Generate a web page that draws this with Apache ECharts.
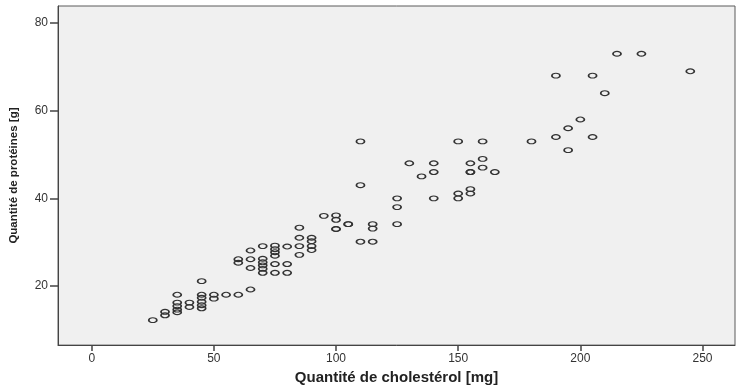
<!DOCTYPE html>
<html>
<head>
<meta charset="utf-8">
<script src="https://cdn.jsdelivr.net/npm/echarts@6/dist/echarts.min.js"></script>
<style>html,body{margin:0;padding:0;background:#fff;}#c{width:738px;height:390px;}</style>
</head>
<body>
<div id="c"></div>
<script>
// Cholesterol (mg) values, one entry per observation
const cholesterol = [
  25,
  30, 30,
  35, 35, 35, 35, 35,
  40, 40,
  45, 45, 45, 45, 45, 45,
  50, 50,
  55,
  60, 60, 60,
  65, 65, 65, 65,
  70, 70, 70, 70, 70, 70,
  75, 75, 75, 75, 75, 75,
  80, 80, 80,
  85, 85, 85, 85,
  90, 90, 90, 90,
  95,
  100, 100, 100, 100,
  105, 105,
  110, 110, 110,
  115, 115, 115,
  125, 125, 125,
  130,
  135,
  140, 140, 140,
  150, 150, 150,
  155, 155, 155, 155, 155,
  160, 160, 160,
  165,
  180,
  190, 190,
  195, 195,
  200,
  205, 205,
  210,
  215,
  225,
  245
];
// Protein (g) values, matching the cholesterol entries above
const proteins = [
  12.2,
  13.3, 14.1,
  14.0, 14.6, 15.4, 16.2, 18.0,
  15.2, 16.2,
  14.9, 15.6, 16.4, 17.3, 18.0, 21.1,
  17.1, 18.0,
  18.0,
  18.0, 25.3, 26.1,
  19.2, 24.1, 26.1, 28.1,
  23.0, 23.9, 24.7, 25.4, 26.2, 29.1,
  23.0, 25.0, 26.9, 27.7, 28.4, 29.2,
  23.0, 25.0, 29.0,
  27.1, 29.1, 31.0, 33.3,
  28.2, 29.1, 30.2, 31.0,
  36.0,
  33.0, 33.0, 35.1, 36.1,
  34.1, 34.1,
  30.1, 43.0, 53.0,
  30.1, 33.1, 34.1,
  34.1, 38.0, 40.0,
  48.0,
  45.0,
  40.0, 46.0, 48.0,
  40.0, 41.1, 53.0,
  41.1, 42.1, 46.0, 46.0, 48.0,
  47.0, 49.0, 53.0,
  46.0,
  53.0,
  54.0, 68.0,
  51.0, 56.0,
  58.0,
  54.0, 68.0,
  64.0,
  73.0,
  73.0,
  69.0
];
const xTicks = [0, 50, 100, 150, 200, 250];
const yTicks = [20, 40, 60, 80];
const xTitle = 'Quantité de cholestérol [mg]';
const yTitle = 'Quantité de protéines [g]';

const points = cholesterol.map((c, i) => [c, proteins[i]]);

const chart = echarts.init(document.getElementById('c'), null, {renderer: 'canvas'});
chart.setOption({
  animation: false,
  backgroundColor: '#ffffff',
  grid: {
    left: 58, right: 3, top: 6, bottom: 41,
    show: true,
    backgroundColor: '#f0f0f0',
    borderColor: '#5a5a5a',
    borderWidth: 1
  },
  xAxis: {
    type: 'value',
    min: -13.8,
    max: 263.3,
    name: xTitle,
    nameLocation: 'middle',
    nameGap: 23,
    nameTextStyle: {fontFamily: 'Liberation Sans, Arial, sans-serif', fontWeight: 'bold', fontSize: 15, color: '#222'},
    axisLine: {show: true, onZero: false, lineStyle: {color: '#444', width: 1}},
    axisTick: {show: true, length: 6, lineStyle: {color: '#444', width: 1.5}, customValues: xTicks},
    axisLabel: {customValues: xTicks, margin: 8, fontFamily: 'Liberation Sans, Arial, sans-serif', fontSize: 12, color: '#333'},
    splitLine: {show: false}
  },
  yAxis: {
    type: 'value',
    min: 6.5,
    max: 83.9,
    name: yTitle,
    nameLocation: 'middle',
    nameGap: 38,
    nameRotate: 90,
    nameTextStyle: {fontFamily: 'Liberation Sans Narrow, Liberation Sans, Arial, sans-serif', fontWeight: 'bold', fontSize: 11.5, color: '#222', padding: [0, 0, 0, 0]},
    axisLine: {show: true, onZero: false, lineStyle: {color: '#444', width: 1}},
    axisTick: {show: true, length: 8, lineStyle: {color: '#444', width: 1.5}, customValues: yTicks},
    axisLabel: {customValues: yTicks, margin: 10, fontFamily: 'Liberation Sans, Arial, sans-serif', fontSize: 12, color: '#333'},
    splitLine: {show: false}
  },
  series: [{
    type: 'scatter',
    data: points,
    symbol: 'circle',
    symbolSize: [8, 4.8],
    itemStyle: {color: 'rgba(0,0,0,0)', borderColor: '#333333', borderWidth: 1.4, opacity: 1}
  }]
});
</script>
</body>
</html>
